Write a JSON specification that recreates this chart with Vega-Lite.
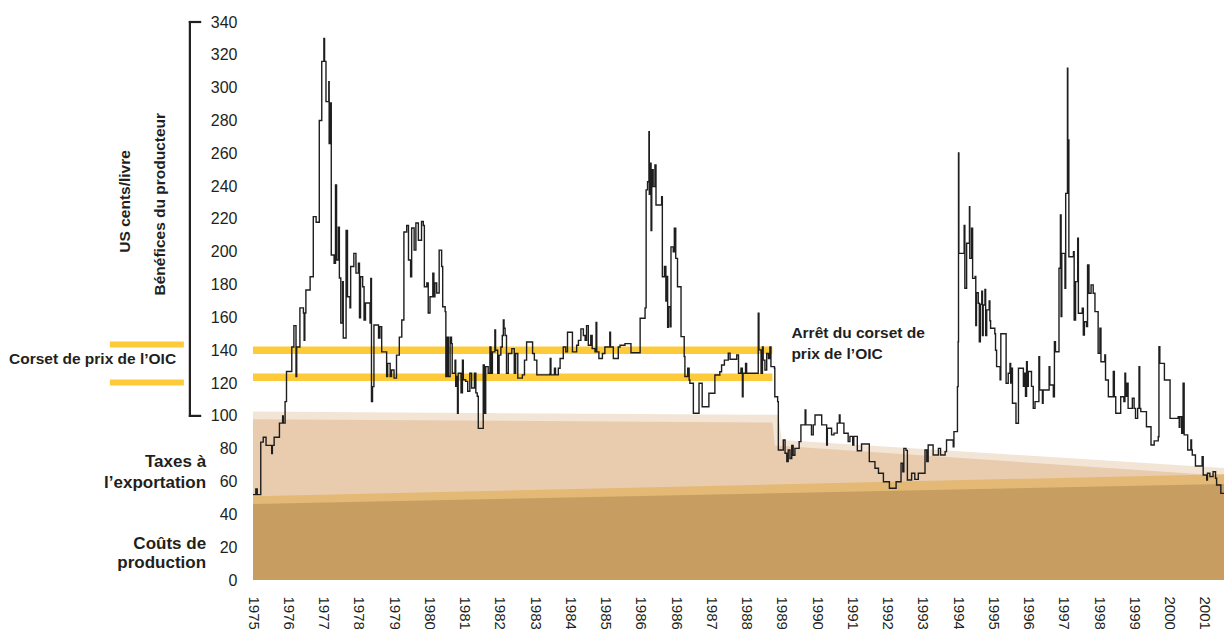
{
"$schema":"https://vega.github.io/schema/vega-lite/v6.json",
"width":971,"height":558,
"autosize":{"type":"none"},
"padding":{"left":253,"top":22,"right":0,"bottom":49},
"background":"white",
"config":{"view":{"stroke":null},"font":"Liberation Sans"},
"datasets":{
"bands":[
{"band":"b1","t":0,"v":102.6},{"band":"b1","t":14.9,"v":100.7},{"band":"b1","t":15.0,"v":85.3},{"band":"b1","t":27.54,"v":68.3},
{"band":"b2","t":0,"v":98},{"band":"b2","t":14.74,"v":96},{"band":"b2","t":14.8,"v":82},{"band":"b2","t":27.54,"v":63.5},
{"band":"b3","t":0,"v":51},{"band":"b3","t":27.54,"v":64.5},
{"band":"b4","t":0,"v":46.3},{"band":"b4","t":27.54,"v":58.5}
],
"corset":[{"t":0,"t2":14.73,"v":140},{"t":0,"t2":14.73,"v":123.5}],
"corsetleft":[{"t":-4.06,"t2":-1.96,"v":143.5},{"t":-4.06,"t2":-1.96,"v":120.4}],
"bracket":[{"t":-1.79,"t2":-1.79,"v":100,"v2":340},{"t":-1.79,"t2":-1.5,"v":340,"v2":340},{"t":-1.79,"t2":-1.5,"v":100,"v2":100}],
"notes":[
{"kind":"side","t":-1.33,"v":71.9,"txt":"Taxes à"},
{"kind":"side","t":-1.33,"v":58.8,"txt":"l’exportation"},
{"kind":"side","t":-1.33,"v":21.9,"txt":"Coûts de"},
{"kind":"side","t":-1.33,"v":10.2,"txt":"production"},
{"kind":"corset","t":-4.55,"v":134.7,"txt":"Corset de prix de l’OIC"},
{"kind":"arret","t":15.27,"v":150.5,"txt":"Arrêt du corset de"},
{"kind":"arret","t":15.27,"v":137.7,"txt":"prix de l’OIC"},
{"kind":"ytitle","t":-3.63,"v":230.7,"txt":"US cents/livre"},
{"kind":"ytitle","t":-2.64,"v":229,"txt":"Bénéfices du  producteur"}
],
"price":[
{"t":0.0,"v":52},{"t":0.08,"v":55.5},{"t":0.12,"v":52},{"t":0.22,"v":84},{"t":0.29,"v":87},{"t":0.37,"v":82},{"t":0.53,"v":77},{"t":0.55,"v":82},{"t":0.60,"v":87},{"t":0.75,"v":95.6},{"t":0.84,"v":100},{"t":0.86,"v":95.6},{"t":0.91,"v":108.7},{"t":0.95,"v":127},{"t":1.10,"v":142},{"t":1.16,"v":155},{"t":1.22,"v":124},{"t":1.24,"v":142},{"t":1.33,"v":165.8},{"t":1.43,"v":162.7},{"t":1.45,"v":146},{"t":1.47,"v":162.7},{"t":1.50,"v":176.7},{"t":1.62,"v":184.8},{"t":1.71,"v":221.4},{"t":1.79,"v":218},{"t":1.88,"v":280},{"t":1.95,"v":316},{"t":2.01,"v":330},{"t":2.03,"v":316},{"t":2.07,"v":291.5},{"t":2.15,"v":303.7},{"t":2.16,"v":266},{"t":2.19,"v":290.7},{"t":2.22,"v":198},{"t":2.30,"v":193},{"t":2.34,"v":240.7},{"t":2.37,"v":195},{"t":2.42,"v":215},{"t":2.45,"v":184},{"t":2.49,"v":156.6},{"t":2.54,"v":181.8},{"t":2.56,"v":147.5},{"t":2.64,"v":213},{"t":2.68,"v":172.6},{"t":2.75,"v":165.8},{"t":2.77,"v":191},{"t":2.86,"v":199},{"t":2.92,"v":187},{"t":2.99,"v":193},{"t":3.02,"v":159.7},{"t":3.05,"v":184.8},{"t":3.11,"v":178.7},{"t":3.15,"v":158.4},{"t":3.19,"v":168.8},{"t":3.32,"v":156.6},{"t":3.34,"v":183.8},{"t":3.36,"v":108.7},{"t":3.39,"v":117.8},{"t":3.43,"v":155.4},{"t":3.56,"v":147.5},{"t":3.60,"v":154.4},{"t":3.65,"v":139},{"t":3.79,"v":123.9},{"t":3.82,"v":132},{"t":3.89,"v":123.9},{"t":3.93,"v":128},{"t":4.00,"v":123},{"t":4.07,"v":137},{"t":4.15,"v":148},{"t":4.22,"v":158.4},{"t":4.28,"v":212},{"t":4.36,"v":216},{"t":4.41,"v":195},{"t":4.47,"v":184.8},{"t":4.50,"v":214.5},{"t":4.57,"v":201},{"t":4.62,"v":217.5},{"t":4.69,"v":207},{"t":4.78,"v":218.4},{"t":4.83,"v":216},{"t":4.86,"v":178.7},{"t":4.93,"v":181},{"t":4.97,"v":162.7},{"t":5.02,"v":172.6},{"t":5.10,"v":187},{"t":5.13,"v":172.6},{"t":5.16,"v":181},{"t":5.21,"v":174.9},{"t":5.28,"v":201},{"t":5.35,"v":191},{"t":5.38,"v":166.5},{"t":5.45,"v":163.5},{"t":5.47,"v":124},{"t":5.50,"v":148},
{"t":5.54,"v":124},{"t":5.59,"v":148},{"t":5.63,"v":144},{"t":5.65,"v":126},{"t":5.73,"v":134},{"t":5.75,"v":118},{"t":5.78,"v":124},{"t":5.80,"v":101.6},{"t":5.82,"v":126},{"t":5.90,"v":114},{"t":5.94,"v":134},{"t":5.965,"v":122},{"t":6.03,"v":121},{"t":6.09,"v":115},{"t":6.15,"v":126},{"t":6.20,"v":117},{"t":6.28,"v":126},{"t":6.32,"v":114},{"t":6.36,"v":112},{"t":6.39,"v":92.4},{"t":6.53,"v":131},{"t":6.56,"v":101.6},{"t":6.60,"v":130},{"t":6.67,"v":126},{"t":6.72,"v":142},{"t":6.75,"v":126},{"t":6.79,"v":139},{"t":6.86,"v":152.4},{"t":6.88,"v":140},{"t":6.94,"v":126},{"t":6.98,"v":137},{"t":7.03,"v":142},{"t":7.07,"v":149},{"t":7.10,"v":158.4},{"t":7.12,"v":153.4},{"t":7.15,"v":149},{"t":7.19,"v":126},{"t":7.24,"v":138},{"t":7.34,"v":141},{"t":7.41,"v":126},{"t":7.45,"v":138},{"t":7.51,"v":123},{"t":7.64,"v":125},{"t":7.70,"v":134},{"t":7.76,"v":145},{"t":7.93,"v":138},{"t":7.98,"v":134},{"t":8.05,"v":125},{"t":8.42,"v":125.5},{"t":8.43,"v":135},{"t":8.45,"v":125},{"t":8.55,"v":129},{"t":8.58,"v":125},{"t":8.66,"v":129},{"t":8.71,"v":135},{"t":8.80,"v":142},{"t":8.87,"v":139},{"t":8.92,"v":151},{"t":9.06,"v":139},{"t":9.18,"v":143},{"t":9.23,"v":146},{"t":9.30,"v":153},{"t":9.37,"v":149},{"t":9.42,"v":146},{"t":9.46,"v":155},{"t":9.51,"v":143},{"t":9.58,"v":149},{"t":9.62,"v":141},{"t":9.70,"v":139},{"t":9.73,"v":157},{"t":9.75,"v":139},{"t":9.81,"v":135},{"t":9.91,"v":138},{"t":9.98,"v":142},{"t":10.12,"v":151},{"t":10.14,"v":142},{"t":10.22,"v":135},{"t":10.36,"v":142},{"t":10.41,"v":143},{"t":10.55,"v":144},{"t":10.72,"v":138.5},{"t":10.98,"v":159.5},
{"t":11.12,"v":165.8},{"t":11.15,"v":237.7},{"t":11.19,"v":242.7},{"t":11.23,"v":273.2},{"t":11.24,"v":235},{"t":11.25,"v":253.9},{"t":11.29,"v":213},{"t":11.31,"v":250},{"t":11.35,"v":239.7},{"t":11.40,"v":252.9},{"t":11.43,"v":228.5},{"t":11.59,"v":233.6},{"t":11.61,"v":184.8},{"t":11.67,"v":191},{"t":11.71,"v":170},{"t":11.73,"v":185},{"t":11.76,"v":154},{"t":11.78,"v":166.5},{"t":11.83,"v":154.3},{"t":11.855,"v":203},{"t":11.92,"v":200},{"t":11.95,"v":214.3},{"t":11.99,"v":196},{"t":12.04,"v":178.7},{"t":12.14,"v":148.3},{"t":12.23,"v":136.2},{"t":12.25,"v":124},{"t":12.33,"v":129},{"t":12.37,"v":121.9},{"t":12.39,"v":119.9},{"t":12.49,"v":101.6},{"t":12.65,"v":119.9},{"t":12.74,"v":105.6},{"t":12.93,"v":113.8},{"t":13.10,"v":124.9},{"t":13.24,"v":126.9},{"t":13.29,"v":131},{"t":13.37,"v":134},{"t":13.48,"v":138.2},{"t":13.53,"v":134.5},{"t":13.72,"v":137.1},{"t":13.77,"v":126},{"t":13.84,"v":129},{"t":13.88,"v":111.7},{"t":13.90,"v":126},{"t":13.97,"v":132},{"t":14.00,"v":126},{"t":14.33,"v":162.5},{"t":14.35,"v":140.2},{"t":14.41,"v":126},{"t":14.45,"v":142},{"t":14.47,"v":134},{"t":14.52,"v":128},{"t":14.57,"v":138},{"t":14.62,"v":135},{"t":14.66,"v":142},{"t":14.69,"v":130},{"t":14.79,"v":129},{"t":14.80,"v":111.7},{"t":14.88,"v":108.7},{"t":14.90,"v":79.2},{"t":15.04,"v":85.3},{"t":15.09,"v":77.2},{"t":15.14,"v":72.1},{"t":15.18,"v":79.2},{"t":15.23,"v":74},{"t":15.28,"v":82},{"t":15.32,"v":76},{"t":15.37,"v":80.2},{"t":15.49,"v":84.3},{"t":15.54,"v":94.5},{"t":15.66,"v":103.6},{"t":15.68,"v":94.5},{"t":15.84,"v":88.4},{"t":15.89,"v":94.5},{"t":15.94,"v":100.5},{"t":16.13,"v":94.5},{"t":16.27,"v":82.3},{"t":16.29,"v":92.5},{"t":16.41,"v":88.4},
{"t":16.48,"v":89.5},{"t":16.57,"v":95.6},{"t":16.63,"v":100.5},{"t":16.65,"v":95.6},{"t":16.76,"v":89.4},{"t":16.88,"v":84.3},{"t":16.93,"v":87.5},{"t":17.01,"v":82.3},{"t":17.04,"v":87.5},{"t":17.14,"v":78.8},{"t":17.26,"v":82.9},{"t":17.48,"v":72.1},{"t":17.64,"v":68.1},{"t":17.74,"v":65},{"t":17.88,"v":59.9},{"t":18.05,"v":55.9},{"t":18.24,"v":59.9},{"t":18.38,"v":71.1},{"t":18.43,"v":66},{"t":18.46,"v":80.2},{"t":18.52,"v":79},{"t":18.56,"v":60.9},{"t":18.68,"v":65},{"t":18.77,"v":61.3},{"t":18.87,"v":65},{"t":19.06,"v":79.2},{"t":19.11,"v":72.1},{"t":19.15,"v":82.3},{"t":19.29,"v":76.2},{"t":19.44,"v":80.2},{"t":19.50,"v":76.2},{"t":19.63,"v":78.2},{"t":19.67,"v":85.3},{"t":19.86,"v":81.2},{"t":19.88,"v":90.4},{"t":19.98,"v":117.8},{"t":20.00,"v":145.2},{"t":20.01,"v":260.2},{"t":20.02,"v":199},{"t":20.15,"v":199},{"t":20.17,"v":216},{"t":20.19,"v":177.8},{"t":20.24,"v":205.2},{"t":20.32,"v":227.5},{"t":20.33,"v":196},{"t":20.38,"v":214.3},{"t":20.41,"v":183.8},{"t":20.48,"v":185},{"t":20.50,"v":155},{"t":20.52,"v":175},{"t":20.57,"v":168.6},{"t":20.60,"v":145.2},{"t":20.63,"v":168},{"t":20.67,"v":176},{"t":20.69,"v":149},{"t":20.71,"v":167.6},{"t":20.76,"v":177},{"t":20.78,"v":149},{"t":20.81,"v":164.6},{"t":20.88,"v":170},{"t":20.90,"v":158},{"t":20.92,"v":153.4},{"t":21.04,"v":150},{"t":21.06,"v":140},{"t":21.09,"v":130},{"t":21.19,"v":122},{"t":21.21,"v":150},{"t":21.36,"v":119.9},{"t":21.42,"v":126},{"t":21.47,"v":132},{"t":21.49,"v":120},{"t":21.52,"v":129},{"t":21.54,"v":107.7},{"t":21.64,"v":95.5},{"t":21.71,"v":129},{"t":21.80,"v":129},{"t":21.85,"v":118},
{"t":21.89,"v":126},{"t":21.91,"v":112},{"t":21.94,"v":133},{"t":21.96,"v":118},{"t":21.99,"v":127},{"t":22.08,"v":118},{"t":22.13,"v":104.6},{"t":22.18,"v":108.7},{"t":22.29,"v":136},{"t":22.31,"v":115.8},{"t":22.39,"v":107.7},{"t":22.41,"v":115.8},{"t":22.58,"v":130},{"t":22.60,"v":118.8},{"t":22.70,"v":111.7},{"t":22.73,"v":145.2},{"t":22.76,"v":139.1},{"t":22.86,"v":190},{"t":22.90,"v":222.4},{"t":22.92,"v":160.5},{"t":22.94,"v":199},{"t":23.03,"v":177.8},{"t":23.05,"v":235.6},{"t":23.10,"v":311.8},{"t":23.11,"v":268.1},{"t":23.14,"v":197},{"t":23.27,"v":200},{"t":23.29,"v":158.4},{"t":23.33,"v":181.8},{"t":23.39,"v":208.2},{"t":23.41,"v":162.5},{"t":23.52,"v":165.6},{"t":23.55,"v":149.3},{"t":23.58,"v":157.4},{"t":23.64,"v":154.4},{"t":23.67,"v":192},{"t":23.71,"v":174.7},{"t":23.77,"v":179.8},{"t":23.83,"v":174.7},{"t":23.88,"v":163.5},{"t":23.97,"v":138.1},{"t":24.02,"v":153.4},{"t":24.05,"v":133},{"t":24.16,"v":137.1},{"t":24.18,"v":121.9},{"t":24.26,"v":111.7},{"t":24.40,"v":127},{"t":24.43,"v":111.7},{"t":24.47,"v":101.6},{"t":24.61,"v":111.7},{"t":24.70,"v":108.7},{"t":24.73,"v":126},{"t":24.75,"v":112},{"t":24.78,"v":119.9},{"t":24.82,"v":104.6},{"t":24.94,"v":110.7},{"t":24.99,"v":104.6},{"t":25.03,"v":98.5},{"t":25.09,"v":104.6},{"t":25.13,"v":130},{"t":25.15,"v":104.6},{"t":25.18,"v":102.6},{"t":25.34,"v":93.4},{"t":25.47,"v":82.3},{"t":25.56,"v":84.8},{"t":25.675,"v":87.3},{"t":25.695,"v":142.2},{"t":25.72,"v":132},{"t":25.85,"v":121.9},{"t":26.01,"v":98.5},{"t":26.24,"v":99.5},{"t":26.27,"v":93},{"t":26.29,"v":99.5},{"t":26.34,"v":89.4},{"t":26.38,"v":119.9},{"t":26.41,"v":88.4},{"t":26.51,"v":79.2},{"t":26.60,"v":85.3},{"t":26.62,"v":79.2},{"t":26.64,"v":76.2},{"t":26.73,"v":69.5},{"t":26.92,"v":75.2},{"t":26.95,"v":64},{"t":27.05,"v":60.9},{"t":27.07,"v":65},{"t":27.14,"v":63},{"t":27.23,"v":66},{"t":27.30,"v":62},{"t":27.33,"v":57.9},{"t":27.45,"v":52.8},{"t":27.54,"v":52.8}
]
},
"encoding":{
 "x":{"field":"t","type":"quantitative","title":null,"scale":{"domain":[0,27.54],"nice":false,"zero":false},
   "axis":{"values":[0,1,2,3,4,5,6,7,8,9,10,11,12,13,14,15,16,17,18,19,20,21,22,23,24,25,26,27],
     "labelExpr":"['1975','1976','1977','1978','1979','1980','1981','1982','1983','1984','1985','1986','1986','1987','1988','1989','1990','1991','1992','1993','1994','1995','1996','1997','1998','1999','2000','2001'][datum.value]",
     "labelAngle":90,"labelAlign":"left","labelBaseline":"middle","labelPadding":16,"labelFontSize":15,"labelFont":"Liberation Sans","labelColor":"#231f20","domain":false,"ticks":false,"grid":false,"labelOverlap":false,"labelFlush":false,"labelBound":false}},
 "y":{"field":"v","type":"quantitative","title":null,"scale":{"domain":[0,340],"nice":false},
   "axis":{"values":[0,20,40,60,80,100,120,140,160,180,200,220,240,260,280,300,320,340],"labelFontSize":16,"labelFont":"Liberation Sans","labelPadding":16,"labelColor":"#231f20","domain":false,"ticks":false,"grid":false,"labelOverlap":false,"labelFlush":false,"labelBound":false}}
},
"layer":[
{"data":{"name":"bands"},"transform":[{"filter":"datum.band==='b1'"}],"mark":{"type":"area","color":"#F3E5D6","opacity":1},"encoding":{"y2":{"datum":0}}},
{"data":{"name":"bands"},"transform":[{"filter":"datum.band==='b2'"}],"mark":{"type":"area","color":"#E9CCAE","opacity":1},"encoding":{"y2":{"datum":0}}},
{"data":{"name":"bands"},"transform":[{"filter":"datum.band==='b3'"}],"mark":{"type":"area","color":"#E3B975","opacity":1},"encoding":{"y2":{"datum":0}}},
{"data":{"name":"bands"},"transform":[{"filter":"datum.band==='b4'"}],"mark":{"type":"area","color":"#C79D62","opacity":1},"encoding":{"y2":{"datum":0}}},
{"data":{"name":"corset"},"mark":{"type":"rule","color":"#FDCB3A","strokeWidth":7.5},"encoding":{"x2":{"field":"t2"}}},
{"data":{"name":"corsetleft"},"mark":{"type":"rule","color":"#FDCB3A","strokeWidth":6},"encoding":{"x2":{"field":"t2"}}},
{"data":{"name":"price"},"mark":{"type":"line","interpolate":"step-after","color":"#1e1e1e","strokeWidth":1.4},"encoding":{}},
{"data":{"name":"bracket"},"mark":{"type":"rule","color":"#231f20","strokeWidth":2.2,"strokeCap":"square"},"encoding":{"x2":{"field":"t2"},"y2":{"field":"v2"}}},
{"data":{"name":"notes"},"transform":[{"filter":"datum.kind==='side'"}],"mark":{"type":"text","align":"right","baseline":"middle","font":"Liberation Sans","fontWeight":"bold","fontSize":17,"color":"#231f20"},"encoding":{"text":{"field":"txt"}}},
{"data":{"name":"notes"},"transform":[{"filter":"datum.kind==='corset'"}],"mark":{"type":"text","align":"center","baseline":"middle","font":"Liberation Sans","fontWeight":"bold","fontSize":15.5,"color":"#231f20"},"encoding":{"text":{"field":"txt"}}},
{"data":{"name":"notes"},"transform":[{"filter":"datum.kind==='arret'"}],"mark":{"type":"text","align":"left","baseline":"middle","font":"Liberation Sans","fontWeight":"bold","fontSize":15.5,"color":"#231f20"},"encoding":{"text":{"field":"txt"}}},
{"data":{"name":"notes"},"transform":[{"filter":"datum.kind==='ytitle'"}],"mark":{"type":"text","align":"center","baseline":"middle","angle":270,"font":"Liberation Sans","fontWeight":"bold","fontSize":15.5,"color":"#231f20"},"encoding":{"text":{"field":"txt"}}}
]
}
